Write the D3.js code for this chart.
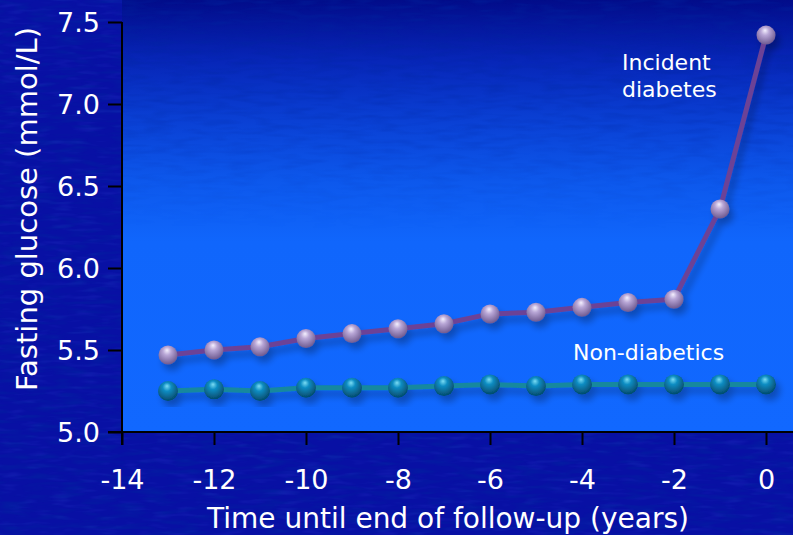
<!DOCTYPE html>
<html><head><meta charset="utf-8">
<script src="https://cdn.jsdelivr.net/npm/d3@7"></script>
<style>html,body{margin:0;padding:0;background:#0710a6;overflow:hidden}svg{display:block}</style>
</head><body>
<svg id="chart" width="793" height="535"></svg>
<script>
const years = [-13,-12,-11,-10,-9,-8,-7,-6,-5,-4,-3,-2,-1,0];
const incidentDiabetes = [5.47,5.50,5.52,5.57,5.60,5.63,5.66,5.72,5.73,5.76,5.79,5.81,6.36,7.42];
const nonDiabetics = [5.25,5.26,5.25,5.27,5.27,5.27,5.28,5.29,5.28,5.29,5.29,5.29,5.29,5.29];
const xTickValues = [-14,-12,-10,-8,-6,-4,-2,0];
const yTickValues = [5.0,5.5,6.0,6.5,7.0,7.5];
const xTitle = "Time until end of follow-up (years)";
const yTitle = "Fasting glucose (mmol/L)";
const incidentLabel = ["Incident","diabetes"];
const nonLabel = "Non-diabetics";

const W = 793, H = 535;
const svg = d3.select("#chart");
const font = "'DejaVu Sans', Verdana, sans-serif";

const x = d3.scaleLinear().domain([-14, 0.6]).range([122, 793.6]);
const y = d3.scaleLinear().domain([5, 7.5]).range([432, 22]);

const defs = svg.append("defs");
const tex = defs.append("filter").attr("id","tex").attr("x",0).attr("y",0).attr("width","100%").attr("height","100%");
tex.append("feTurbulence").attr("type","fractalNoise").attr("baseFrequency","0.035 0.2").attr("numOctaves",2).attr("seed",7).attr("result","n");
tex.append("feColorMatrix").attr("type","matrix")
  .attr("values","0 0 0 0 0.0  0 0 0 0 0.02  0 0 0 0 0.35  0 0 0 -2.2 1.25");
const tex2 = defs.append("filter").attr("id","tex2").attr("x",0).attr("y",0).attr("width","100%").attr("height","100%");
tex2.append("feTurbulence").attr("type","fractalNoise").attr("baseFrequency","0.04 0.22").attr("numOctaves",2).attr("seed",3).attr("result","n");
tex2.append("feColorMatrix").attr("type","matrix")
  .attr("values","0 0 0 0 0.06  0 0 0 0 0.1  0 0 0 0 0.8  0 0 0 2.2 -1.15");

const grad = defs.append("linearGradient").attr("id","plotGrad")
  .attr("gradientUnits","userSpaceOnUse").attr("x1",0).attr("y1",0).attr("x2",0).attr("y2",432);
[[0,"#020c8a"],[0.14,"#0726b8"],[0.28,"#0a40d4"],[0.42,"#0d58ec"],[0.56,"#1066fc"],[1,"#1168ff"]]
  .forEach(([o,c]) => grad.append("stop").attr("offset",o).attr("stop-color",c));
const fade = defs.append("linearGradient").attr("id","fade").attr("x1",0).attr("y1",0).attr("x2",0).attr("y2",1);
fade.append("stop").attr("offset",0).attr("stop-color","#fff").attr("stop-opacity",1);
fade.append("stop").attr("offset",1).attr("stop-color","#fff").attr("stop-opacity",0);
const mask = defs.append("mask").attr("id","fadeMask");
mask.append("rect").attr("x",122).attr("y",0).attr("width",W).attr("height",230).attr("fill","url(#fade)");

const shadow = defs.append("filter").attr("id","shadow").attr("x","-20%").attr("y","-20%").attr("width","140%").attr("height","140%");
shadow.append("feGaussianBlur").attr("in","SourceAlpha").attr("stdDeviation",3.5).attr("result","b");
shadow.append("feOffset").attr("dx",4).attr("dy",6).attr("result","o");
shadow.append("feComponentTransfer").append("feFuncA").attr("type","linear").attr("slope",0.28);
const fm = shadow.append("feMerge");
fm.append("feMergeNode");
fm.append("feMergeNode").attr("in","SourceGraphic");

function sphere(id, light, mid, dark) {
  const g = defs.append("radialGradient").attr("id",id).attr("cx","45%").attr("cy","38%").attr("r","62%").attr("fx","45%").attr("fy","25%");
  g.append("stop").attr("offset",0).attr("stop-color",light);
  g.append("stop").attr("offset",0.35).attr("stop-color",mid);
  g.append("stop").attr("offset",1).attr("stop-color",dark);
}
sphere("sphInc","#f4f0ff","#b8a6d6","#6e5a90");
sphere("sphNon","#7adcf4","#0c8cc2","#054a6a");

// background
svg.append("rect").attr("width",W).attr("height",H).attr("fill","#0810a4");
svg.append("rect").attr("width",W).attr("height",H).attr("filter","url(#tex)").attr("opacity",0.55);
svg.append("rect").attr("width",W).attr("height",H).attr("filter","url(#tex2)").attr("opacity",0.18);
// plot area
svg.append("rect").attr("x",x(-14)).attr("y",0).attr("width",W - x(-14)).attr("height",y(5)).attr("fill","url(#plotGrad)");
svg.append("g").attr("mask","url(#fadeMask)")
  .append("rect").attr("x",x(-14)).attr("y",0).attr("width",W - x(-14)).attr("height",230)
  .attr("filter","url(#tex)").attr("opacity",0.5);

// series
const line = d3.line().x((d,i)=>x(years[i])).y(d=>y(d));
const series = [
  {vals: nonDiabetics, stroke:"#14889e", fill:"url(#sphNon)", r:10},
  {vals: incidentDiabetes, stroke:"#6c4396", fill:"url(#sphInc)", r:9.5}
];
series.forEach(s => {
  const g = svg.append("g").attr("filter","url(#shadow)");
  g.append("path").attr("d",line(s.vals)).attr("fill","none").attr("stroke",s.stroke).attr("stroke-width",5).attr("stroke-linejoin","round");
  g.selectAll("circle").data(s.vals).join("circle")
    .attr("cx",(d,i)=>x(years[i])).attr("cy",d=>y(d)).attr("r",s.r).attr("fill",s.fill);
});

// axes
const xAxis = svg.append("g").attr("transform",`translate(0,${y(5)})`)
  .call(d3.axisBottom(x).tickValues(xTickValues).tickSize(13).tickSizeOuter(0).tickFormat(d => String(d)));
const yAxis = svg.append("g").attr("transform",`translate(${x(-14)},0)`)
  .call(d3.axisLeft(y).tickValues(yTickValues).tickSize(14).tickSizeOuter(0).tickFormat(d => d.toFixed(1)));
[xAxis,yAxis].forEach(a => {
  a.select(".domain").remove();
  a.selectAll(".tick line").attr("stroke","#000").attr("stroke-width",2);
  a.selectAll(".tick text").attr("fill","#fff").attr("font-family",font).attr("font-size",27);
});
xAxis.selectAll(".tick text").attr("y",38).attr("dy","0.71em");
yAxis.selectAll(".tick text").attr("x",-22).attr("dy","0.36em");
svg.append("line").attr("x1",x(-14)-14).attr("x2",W).attr("y1",y(5)).attr("y2",y(5)).attr("stroke","#000").attr("stroke-width",2);
svg.append("line").attr("x1",x(-14)).attr("x2",x(-14)).attr("y1",y(7.5)).attr("y2",y(5)+13).attr("stroke","#000").attr("stroke-width",2);

// titles
svg.append("text").attr("x",448).attr("y",528).attr("text-anchor","middle").attr("fill","#fff")
  .attr("font-family",font).attr("font-size",28).text(xTitle);
svg.append("text").attr("transform","translate(37,209) rotate(-90)").attr("text-anchor","middle").attr("fill","#fff")
  .attr("font-family",font).attr("font-size",29).text(yTitle);

// labels
const il = svg.append("text").attr("fill","#fff").attr("font-family",font).attr("font-size",22);
incidentLabel.forEach((t,i)=> il.append("tspan").attr("x",622).attr("y",70 + i*27).text(t));
svg.append("text").attr("x",573).attr("y",360).attr("fill","#fff").attr("font-family",font).attr("font-size",22).text(nonLabel);
</script>
</body></html>
